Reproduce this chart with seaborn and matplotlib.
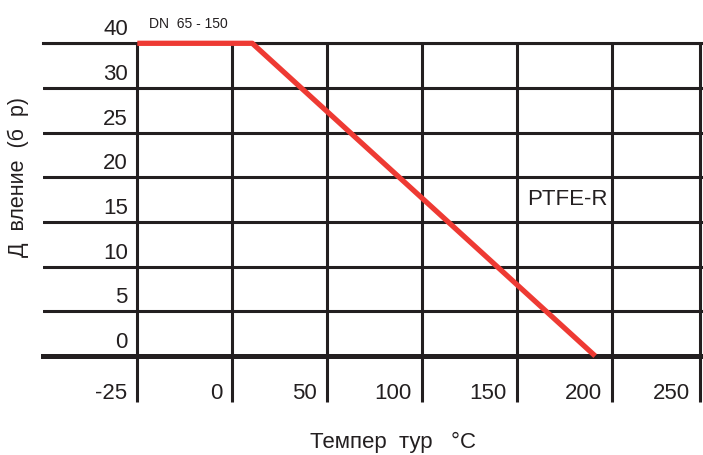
import matplotlib
matplotlib.use("Agg")
import matplotlib.pyplot as plt
import matplotlib.transforms as mtrans
import seaborn as sns
import pandas as pd

sns.set_style("white")
plt.rcParams["font.family"] = ["Liberation Sans", "DejaVu Sans"]

# ---- data (grid index coordinates) ----
x_labels = ["-25", "0", "50", "100", "150", "200", "250"]
x_grid = [0, 1, 1.997, 2.994, 3.994, 5.0, 5.92]
y_labels = ["0", "5", "10", "15", "20", "25", "30", "40"]
y_grid = [0, 1, 2, 3, 4, 5, 6, 7]
curve_x = [0.0, 1.21, 4.82]
curve_y = [7.0, 7.0, 0.0]
series_name = "PTFE-R"
size_note = "DN  65 - 150"
x_title = "Темпер  тур   °C"
y_title = "Д  вление  (б  р)"

ink = "#231f20"
red = "#ee3a33"

fig = plt.figure(figsize=(7.03, 4.55), dpi=100)
ax = fig.add_axes([43 / 703, 1 - 356 / 455, 1 - 43 / 703, (356 - 43.3) / 455])

df = pd.DataFrame({"x": curve_x, "y": curve_y})
sns.lineplot(data=df, x="x", y="y", ax=ax, color=red, linewidth=3.8,
             sort=False, zorder=5, clip_on=False)
for ln in ax.lines:
    ln.set_clip_on(False)
    ln.set_solid_capstyle("butt")

ax.set_xlim(-0.993, 5.955)
ax.set_ylim(0, 7)
ax.set_xticks(x_grid)
ax.set_yticks(y_grid)
ax.grid(True, color=ink, linewidth=2.2)
ax.set_axisbelow(True)
ax.tick_params(axis="x", direction="out", length=33, width=2.2, color=ink,
               labelbottom=False, bottom=True)
ax.tick_params(axis="y", length=0, labelleft=False)
ax.set_xlabel("")
ax.set_ylabel("")
for s in ["left", "right"]:
    ax.spines[s].set_visible(False)
ax.spines["bottom"].set_linewidth(3.6)
ax.spines["bottom"].set_color(ink)
ax.spines["top"].set_linewidth(2.2)
ax.spines["top"].set_color(ink)

fs = 16
for xv, lab in zip(x_grid, x_labels):
    tr = mtrans.offset_copy(ax.transData, fig=fig, x=-10, y=-43, units="dots")
    ax.text(xv, 0, lab, transform=tr, ha="right", va="baseline",
            fontsize=fs, color=ink, clip_on=False)
for yv, lab in zip(y_grid, y_labels):
    tr = mtrans.offset_copy(ax.transData, fig=fig, x=-9.5, y=8, units="dots")
    ax.text(0, yv, lab, transform=tr, ha="right", va="baseline",
            fontsize=fs, color=ink, clip_on=False)

tr = mtrans.offset_copy(ax.transData, fig=fig, x=12, y=15.6, units="dots")
ax.text(0, 7, size_note, transform=tr, ha="left", va="baseline",
        fontsize=10, color=ink, clip_on=False)
ax.text(4.1, 3.38, series_name, ha="left", va="baseline", fontsize=fs, color=ink)

fig.text(393 / 703, 1 - 448 / 455, x_title, ha="center", va="baseline",
         fontsize=fs, color=ink)
fig.text(18 / 703, 1 - 177 / 455, y_title, ha="center", va="center",
         rotation=90, fontsize=15.5, color=ink)

fig.savefig("out.png", dpi=100)
